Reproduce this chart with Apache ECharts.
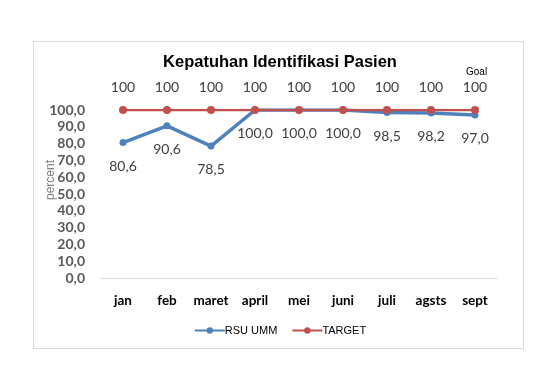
<!DOCTYPE html>
<html>
<head>
<meta charset="utf-8">
<script src="https://cdn.jsdelivr.net/npm/echarts@6/dist/echarts.min.js"></script>
<style>
html,body{margin:0;padding:0;background:#fff;}
#chart{width:560px;height:370px;}
</style>
</head>
<body>
<div id="chart"></div>
<script>
var categories = ['jan','feb','maret','april','mei','juni','juli','agsts','sept'];
var rsuUmm = [80.6, 90.6, 78.5, 100.0, 100.0, 100.0, 98.5, 98.2, 97.0];
var target = [100, 100, 100, 100, 100, 100, 100, 100, 100];
var yTicks = [0, 10, 20, 30, 40, 50, 60, 70, 80, 90, 100];
var titleText = 'Kepatuhan Identifikasi Pasien';
var yName = 'percent';

var chart = echarts.init(document.getElementById('chart'));
var option = {
  backgroundColor: '#ffffff',
  animation: false,
  title: {
    text: titleText,
    left: 'center',
    top: 49,
    textStyle: {fontFamily: 'Liberation Sans', fontWeight: 'bold', fontSize: 16.5, color: '#000'}
  },
  graphic: [
    {type: 'rect', shape: {x: 33.5, y: 41.5, width: 490, height: 307}, style: {fill: 'none', stroke: '#d9d9d9', lineWidth: 1}, z: -1},
    {type: 'text', left: 466, top: 67, style: {text: 'Goal', font: '10px "Liberation Sans"', fill: '#000'}}
  ],
  legend: {
    data: ['RSU UMM', 'TARGET'],
    top: 320,
    left: 'center',
    itemWidth: 30,
    itemHeight: 8,
    itemGap: 14,
    textStyle: {fontFamily: 'Liberation Sans', fontSize: 11, color: '#000', padding: [0,0,0,-5]}
  },
  grid: {left: 101, right: 63, top: 110, bottom: 92},
  xAxis: {
    type: 'category',
    data: categories,
    boundaryGap: true,
    axisLine: {lineStyle: {color: '#d9d9d9', width: 1}},
    axisTick: {show: false},
    axisLabel: {interval: 0, fontFamily: 'Lato', fontWeight: 'bold', fontSize: 13.5, color: '#000', margin: 16}
  },
  yAxis: {
    type: 'value',
    min: yTicks[0],
    max: yTicks[yTicks.length - 1],
    interval: 10,
    name: yName,
    nameLocation: 'middle',
    nameGap: 44,
    nameMoveOverlap: false,
    nameTextStyle: {fontFamily: 'Liberation Sans', fontSize: 12, color: '#7f7f7f', padding: [0, 0, 0, 28]},
    axisLine: {show: false},
    axisTick: {show: false},
    splitLine: {show: false},
    axisLabel: {
      fontFamily: 'Lato', fontWeight: 'bold', fontSize: 14, color: '#595959', margin: 16,
      formatter: function (v) { return v.toFixed(1).replace('.', ','); }
    }
  },
  series: [
    {
      name: 'RSU UMM',
      type: 'line',
      data: rsuUmm,
      color: '#4f81bd',
      symbol: 'circle',
      symbolSize: 7,
      lineStyle: {width: 3.5, color: '#4f81bd'},
      itemStyle: {color: '#4f81bd'},
      label: {
        show: true, position: 'bottom', distance: 13,
        fontFamily: 'Lato', fontSize: 14, color: '#404040',
        formatter: function (p) { return p.value.toFixed(1).replace('.', ','); }
      },
      z: 2
    },
    {
      name: 'TARGET',
      type: 'line',
      data: target,
      color: '#c0504d',
      symbol: 'circle',
      symbolSize: 8,
      lineStyle: {width: 2.5, color: '#c0504d'},
      itemStyle: {color: '#c0504d'},
      label: {
        show: true, position: 'top', distance: 12,
        fontFamily: 'Lato', fontSize: 14, color: '#404040'
      },
      z: 3
    }
  ]
};
chart.setOption(option);
</script>
</body>
</html>
